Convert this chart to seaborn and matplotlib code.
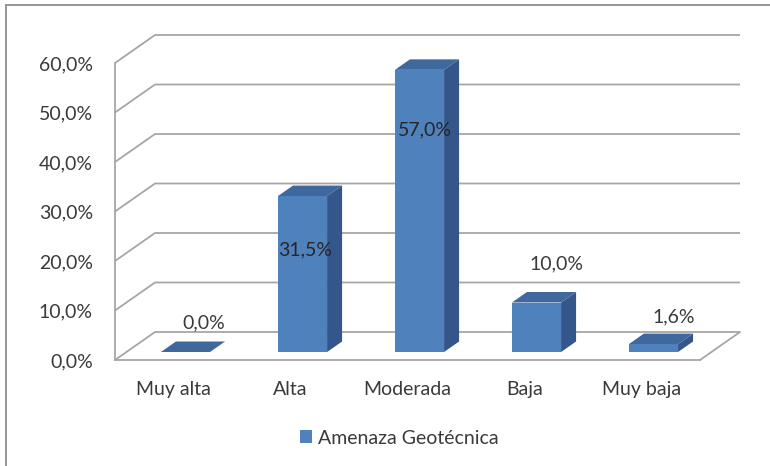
import matplotlib
matplotlib.use("Agg")
import matplotlib.pyplot as plt
import matplotlib.transforms as mtransforms
from matplotlib.patches import Polygon, Patch
from matplotlib.lines import Line2D
import numpy as np
import pandas as pd
import seaborn as sns

# ---- data -------------------------------------------------------------
categories = ["Muy alta", "Alta", "Moderada", "Baja", "Muy baja"]
percentages = [0.0, 31.5, 57.0, 10.0, 1.6]
series_name = "Amenaza Geotécnica"
y_ticks = [0, 10, 20, 30, 40, 50, 60]

# ---- styling ----------------------------------------------------------
FRONT = "#4F81BD"
SIDE = "#34568A"
TOP = "#3F689D"
GRID = "#A6A6A6"
TEXT = "#3A3A3A"
FS = 14

# value-label placement relative to the top centre of each bar (pixels, + is up)
label_dx = [18, 3, 5, 20, 20]
label_dy = [29, -54, -60, 39, 27]

BAR_SHIFT = (12, 8)     # bars sit a little behind the front plane
BAR_DEPTH = (15, 10.5)  # depth of each 3-D bar
WALL_DEPTH = (40, 28)   # depth of the floor / side wall

sns.set_style("white")
plt.rcParams["font.family"] = ["Lato", "DejaVu Sans"]

W, H = 770, 466
fig = plt.figure(figsize=(W / 100, H / 100), dpi=100)
ax = fig.add_axes([115 / W, 1 - 360 / H, 585 / W, 297 / H])

df = pd.DataFrame({"categoria": categories, "porcentaje": percentages})
sns.barplot(data=df, x="categoria", y="porcentaje", color=FRONT,
            saturation=1, width=0.42, linewidth=0, ax=ax, zorder=3)
ax.set_xlim(-0.5, len(categories) - 0.5)
ax.set_ylim(0, 60)
ax.set_xlabel("")
ax.set_ylabel("")

to_disp = ax.transData.transform
to_data = ax.transData.inverted().transform

# ---- walls and gridlines ---------------------------------------------
wd = np.array(WALL_DEPTH, dtype=float)
x_left, x_right = ax.get_xlim()
for v in y_ticks:
    p0 = to_disp((x_left, v))
    p1 = p0 + wd
    p2 = to_disp((x_right, v)) + wd
    pts = to_data(np.array([p0, p1, p2]))
    ax.plot(pts[:, 0], pts[:, 1], color=GRID, lw=1.3, clip_on=False, zorder=1,
            solid_capstyle="butt")
# right edge of the floor
q = to_data(np.array([to_disp((x_right, 0)), to_disp((x_right, 0)) + wd]))
ax.plot(q[:, 0], q[:, 1], color=GRID, lw=1.3, clip_on=False, zorder=1)

# ---- 3-D bars ---------------------------------------------------------
bar_tf = ax.transData + mtransforms.Affine2D().translate(*BAR_SHIFT)
bd = np.array(BAR_DEPTH, dtype=float)
bars = [p for p in ax.patches]
for p, val, ldx, ldy in zip(bars, percentages, label_dx, label_dy):
    p.set_transform(bar_tf)
    p.set_clip_on(False)
    x, w, h = p.get_x(), p.get_width(), p.get_height()
    bl, br, tr, tl = bar_tf.transform([(x, 0), (x + w, 0), (x + w, h), (x, h)])
    side = to_data(np.array([br, tr, tr + bd, br + bd]))
    top = to_data(np.array([tl, tr, tr + bd, tl + bd]))
    ax.add_patch(Polygon(side, closed=True, facecolor=SIDE, edgecolor="none",
                         clip_on=False, zorder=3))
    ax.add_patch(Polygon(top, closed=True, facecolor=TOP, edgecolor="none",
                         clip_on=False, zorder=3))
    anchor = bar_tf.transform((x + w / 2, h)) + np.array([ldx, ldy])
    lx, ly = to_data(anchor)
    ax.text(lx, ly, f"{val:.1f}%".replace(".", ","), ha="center", va="center",
            fontsize=FS, color="#262626" if ldy < 0 else TEXT, zorder=5)

# ---- axes -------------------------------------------------------------
for s in ("top", "right"):
    ax.spines[s].set_visible(False)
for s in ("left", "bottom"):
    ax.spines[s].set_color(GRID)
    ax.spines[s].set_linewidth(1.3)
ax.set_yticks(y_ticks)
ax.set_yticklabels([f"{v:.1f}%".replace(".", ",") for v in y_ticks])
ax.tick_params(axis="y", length=5, width=1.3, color=GRID, pad=11,
               labelsize=FS, labelcolor=TEXT)
ax.set_xticks(range(len(categories)))
ax.set_xticklabels(categories)
ax.set_xticks(np.arange(-0.5, len(categories), 1.0), minor=True)
ax.tick_params(axis="x", which="major", length=0, pad=15,
               labelsize=FS, labelcolor=TEXT)
ax.tick_params(axis="x", which="minor", length=5, width=1.3, color=GRID)
ax.grid(False)

# ---- legend -----------------------------------------------------------
fig.legend(handles=[Patch(facecolor=FRONT, edgecolor="none", label=series_name)],
           loc="center", bbox_to_anchor=(399 / W, 1 - 438 / H), frameon=False,
           fontsize=FS, handlelength=0.62, handleheight=0.62,
           handletextpad=0.3, labelcolor=TEXT)

# ---- chart frame ------------------------------------------------------
fig.add_artist(Line2D([6.5 / W, 6.5 / W], [0, 1 - 5 / H], transform=fig.transFigure,
                      color="#8C8C8C", lw=1.3))
fig.add_artist(Line2D([6.5 / W, 1], [1 - 5 / H, 1 - 5 / H], transform=fig.transFigure,
                      color="#8C8C8C", lw=1.3))

fig.savefig("out.png", dpi=100)
